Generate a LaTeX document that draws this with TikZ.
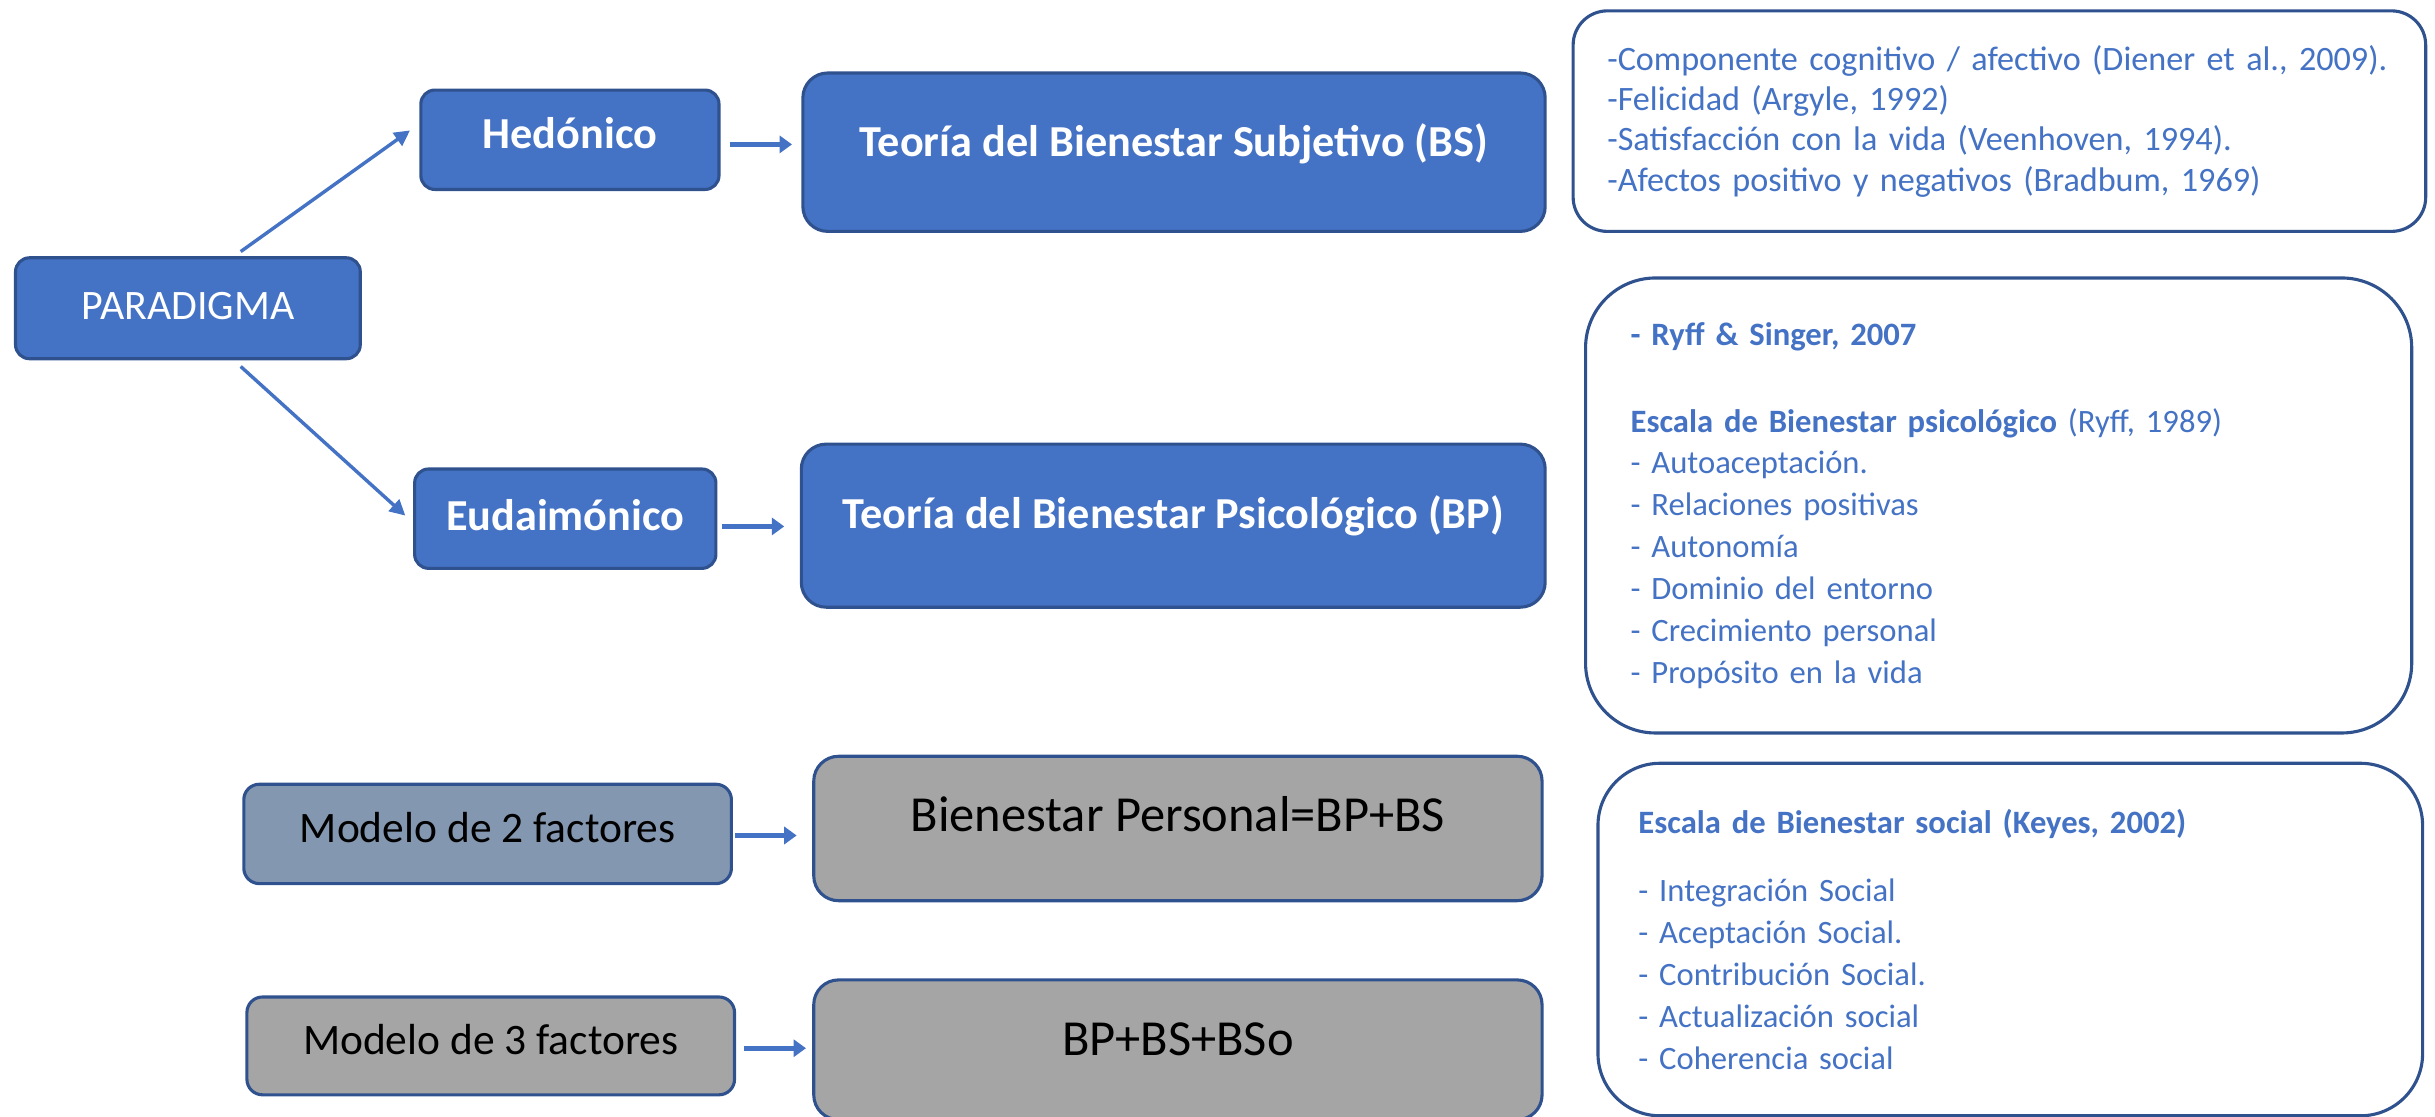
\documentclass[tikz,border=0pt]{standalone}
\usepackage{fontspec}
\setmainfont{Carlito}
\usepackage{xcolor}
\usetikzlibrary{shapes,arrows.meta}

\definecolor{officeblue}{HTML}{4472C4}
\definecolor{edgeblue}{HTML}{2F528F}
\definecolor{boxgray}{HTML}{A5A5A5}
\definecolor{slategray}{HTML}{8497B0}

\begin{document}
\begin{tikzpicture}[
      x=1pt, y=-1pt,
      block/.style={rectangle, draw=edgeblue, line width=2pt, fill=officeblue, text=white, text centered, rounded corners=9pt, inner sep=0pt, font=\fontsize{28.5}{34}\selectfont\bfseries},
      modelbox/.style={rectangle, draw=edgeblue, line width=2pt, fill=boxgray, text=black, text centered, rounded corners=10pt, inner sep=0pt, font=\fontsize{28}{34}\selectfont},
      infobox/.style={rectangle, draw=edgeblue, line width=2pt, fill=white, text=officeblue, align=left, inner ysep=0pt, font=\fontsize{21}{27}\selectfont},
      arrow/.style={officeblue, line width=3pt, -{Triangle[length=8pt,width=11pt]}},
      diag/.style={officeblue, line width=2.2pt, -{Triangle[length=10pt,width=10pt]}}
    ]
      \useasboundingbox (0,0) rectangle (1568,719);

      \node [block, font=\fontsize{27}{32}\selectfont, text depth=3pt, minimum width=222pt, minimum height=65pt] (paradigma) at (121,198.5) {PARADIGMA};
      \node [block, text depth=9pt, minimum width=192pt, minimum height=64pt] (hedonico) at (367,90) {Hedónico};
      \node [block, text depth=5pt, minimum width=194pt, minimum height=64pt] (eudaimonico) at (364,334) {Eudaimónico};
      \node [block, text depth=15pt, minimum width=478pt, minimum height=102pt, rounded corners=16pt] (teoriaBS) at (756,98) {Teoría del Bienestar Subjetivo (BS)};
      \node [block, text depth=18pt, minimum width=479pt, minimum height=105pt, rounded corners=16pt] (teoriaBP) at (755.5,338.5) {Teoría del Bienestar Psicológico (BP)};

      \node [modelbox, fill=slategray, text depth=9pt, minimum width=314pt, minimum height=64pt] (modelo2) at (314,537) {Modelo de 2 factores};
      \node [modelbox, text depth=8pt, minimum width=314pt, minimum height=63pt] (modelo3) at (316,673.5) {Modelo de 3 factores};
      \node [modelbox, font=\fontsize{32.5}{38}\selectfont, text depth=19pt, minimum width=469pt, minimum height=93pt, rounded corners=16pt] (personal) at (758.5,533.5) {Bienestar Personal=BP+BS};
      \node [modelbox, font=\fontsize{32.5}{38}\selectfont, text depth=14pt, minimum width=469pt, minimum height=90pt, rounded corners=16pt] (factores) at (758.5,676) {BP+BS+BSo};

      \node [infobox, font=\fontsize{22}{26}\selectfont, text width=505pt, inner xsep=22pt, minimum height=142pt, rounded corners=22pt] (infoBS) at (1287.5,78) {-Componente cognitivo / afectivo (Diener et al., 2009).\\-Felicidad (Argyle, 1992)\\-Satisfacción con la vida (Veenhoven, 1994).\\-Afectos positivo y negativos (Bradbum, 1969)};
      \node [infobox, text width=474pt, inner xsep=29pt, minimum height=293pt, rounded corners=45pt] (infoBP) at (1287,325.5) {\textbf{- Ryff \& Singer, 2007}\\[29pt]\textbf{Escala de Bienestar psicológico} (Ryff, 1989)\\- Autoaceptación.\\- Relaciones positivas\\- Autonomía\\- Dominio del entorno\\- Crecimiento personal\\- Propósito en la vida};
      \node [infobox, text width=479pt, inner xsep=26pt, minimum height=227pt, rounded corners=40pt] (infoSo) at (1294.5,605) {\textbf{Escala de Bienestar social (Keyes, 2002)}\\[17pt]- Integración Social\\- Aceptación Social.\\- Contribución Social.\\- Actualización social\\- Coherencia social};

      \draw [diag] ([xshift=34pt,yshift=3pt]paradigma.north) -- ([xshift=-6pt,yshift=6pt]hedonico.west);
      \draw [diag] ([xshift=34pt,yshift=-4pt]paradigma.south) -- ([xshift=-5pt,yshift=2pt]eudaimonico.west);
      \draw [arrow, shorten <=6pt, shorten >=6pt] ([yshift=-3pt]hedonico.east) -- ([yshift=-3pt]hedonico.east -| teoriaBS.west);
      \draw [arrow, shorten <=3pt, shorten >=10pt] ([yshift=-5pt]eudaimonico.east) -- ([yshift=-5pt]eudaimonico.east -| teoriaBP.west);
      \draw [arrow, shorten <=1pt, shorten >=10pt] ([yshift=-1pt]modelo2.east) -- ([yshift=-1pt]modelo2.east -| personal.west);
      \draw [arrow, shorten <=5pt, shorten >=4pt] ([yshift=-1.5pt]modelo3.east) -- ([yshift=-1.5pt]modelo3.east -| factores.west);
    \end{tikzpicture}
\end{document}
